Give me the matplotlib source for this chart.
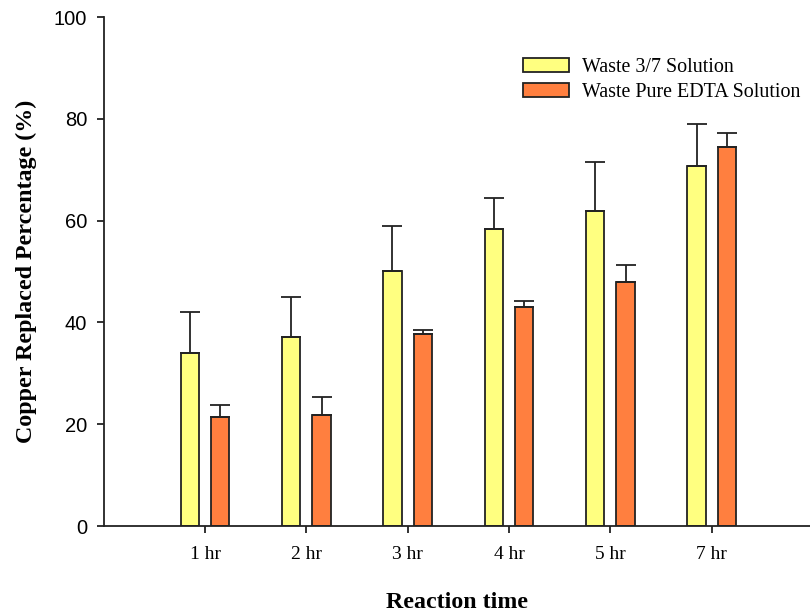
import numpy as np
import matplotlib
matplotlib.use("Agg")
import matplotlib.pyplot as plt

# data
times = ["1 hr", "2 hr", "3 hr", "4 hr", "5 hr", "7 hr"]
waste_37 = [34.0, 37.2, 50.1, 58.3, 61.8, 70.8]
waste_37_err = [8.1, 7.8, 8.8, 6.1, 9.7, 8.2]
waste_edta = [21.5, 21.9, 37.7, 43.0, 47.9, 74.5]
waste_edta_err = [2.3, 3.4, 0.8, 1.3, 3.3, 2.8]

fig = plt.figure(figsize=(8.1, 6.12), dpi=100)
ax = fig.add_axes([0.128, 0.1405, 0.872, 0.8317])

x = np.arange(1, len(times) + 1)
w = 0.18
off = 0.15
ek = dict(ecolor="#222222", elinewidth=1.3, capsize=7, capthick=1.3)

ax.bar(x - off, waste_37, w, color="#FFFF80", edgecolor="#222222", linewidth=1.3,
       yerr=[np.zeros(len(x)), waste_37_err], error_kw=ek, label="Waste 3/7 Solution", zorder=2)
ax.bar(x + off, waste_edta, w, color="#FF7F3F", edgecolor="#222222", linewidth=1.3,
       yerr=[np.zeros(len(x)), waste_edta_err], error_kw=ek, label="Waste Pure EDTA Solution", zorder=2)

ax.set_xlim(0, 6.97)
ax.set_ylim(0, 100)
ax.set_xticks(x)
ax.set_xticklabels(times, family="Liberation Serif", fontsize=14)
ax.set_yticks(range(0, 101, 20))
ax.set_yticklabels([str(v) for v in range(0, 101, 20)], family="Liberation Sans", fontsize=14.5)

ax.spines["top"].set_visible(False)
ax.spines["right"].set_visible(False)
for s in ("left", "bottom"):
    ax.spines[s].set_linewidth(1.3)
    ax.spines[s].set_color("#222222")
ax.tick_params(axis="y", direction="out", length=5, width=1.3, color="#222222", pad=7)
ax.tick_params(axis="x", direction="out", length=5, width=1.3, color="#222222", pad=9.5)

ax.set_xlabel("Reaction time", family="Liberation Serif", fontweight="bold", fontsize=17.2, labelpad=21)
ax.set_ylabel("Copper Replaced Percentage (%)", family="Liberation Serif", fontweight="bold",
              fontsize=17.3, labelpad=12)

leg = ax.legend(loc="upper left", bbox_to_anchor=(0.594, 0.92), frameon=False,
                prop={"family": "Liberation Serif", "size": 14.4}, borderpad=0, borderaxespad=0,
                handlelength=2.3, handleheight=0.7, handletextpad=0.65, labelspacing=0.32)

fig.savefig("out.png", dpi=100)
